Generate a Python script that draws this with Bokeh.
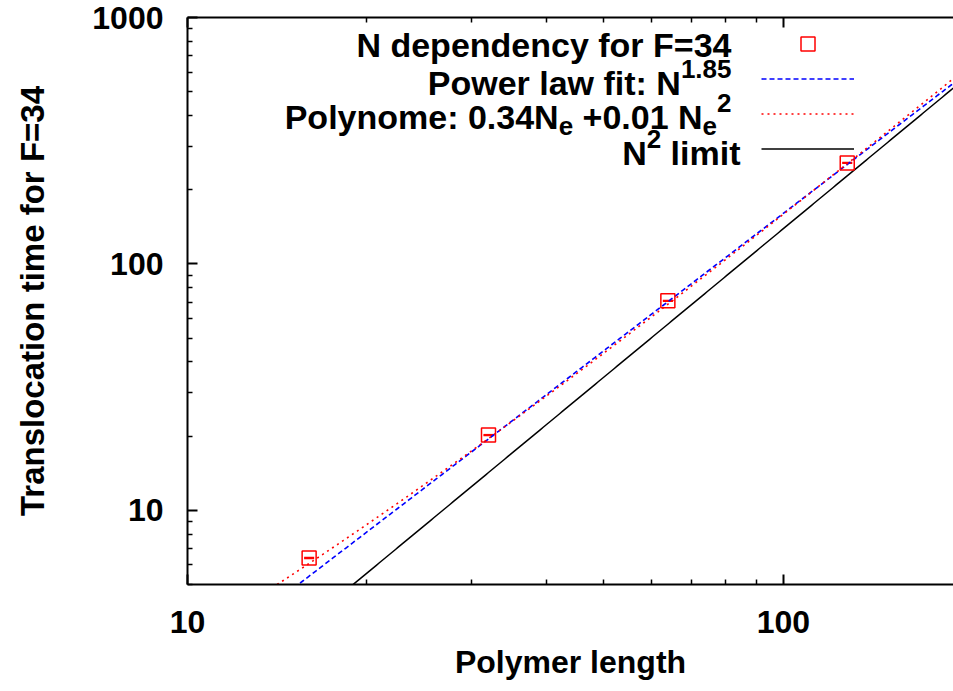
import numpy as np
from bokeh.plotting import figure
from bokeh.models import (LogAxis, FixedTicker, Legend, LegendItem, Label, Whisker,
                          ColumnDataSource, Range1d, TeeHead, NumeralTickFormatter)
from bokeh.embed import file_html
from bokeh.resources import INLINE

# ---------------- data ----------------
polymer_length = [16, 32, 64, 128]
transloc_time = [6.4, 20.2, 70.8, 257.0]
transloc_err = [0.03, 0.08, 0.25, 0.8]

power_exponent = 1.85
power_prefactor = 0.032
poly_linear = 0.15
poly_quadratic = 0.0144
limit_prefactor = 0.0139

x_limits = [10, 193]
y_limits = [5, 1000]

x_major = [10, 100]
x_minor = [20, 30, 40, 50, 60, 70, 80, 90, 200]
y_major = [10, 100, 1000]
y_minor = [5, 6, 7, 8, 9, 20, 30, 40, 50, 60, 70, 80, 90,
           200, 300, 400, 500, 600, 700, 800, 900]

x_label = "Polymer length"
y_label = "Translocation time for F=34"

FONT = "Liberation Sans"
AXF = 32
YLF = 33
MAIN = 34
SMALL = 26

# ---------------- figure ----------------
W, H = 953, 691
FL, FB, FT = 187, 107, 17   # frame borders (px)
p = figure(width=W, height=H, x_axis_type="log", y_axis_type="log",
           x_range=Range1d(*x_limits), y_range=Range1d(*y_limits),
           output_backend="svg", toolbar_location=None,
           min_border_left=FL, min_border_right=0, min_border_top=FT,
           min_border_bottom=FB)
p.outline_line_color = None
p.grid.visible = False
p.background_fill_color = "white"
p.border_fill_color = "white"

p.xaxis.ticker = FixedTicker(ticks=x_major, minor_ticks=x_minor)
p.yaxis.ticker = FixedTicker(ticks=y_major, minor_ticks=y_minor)
p.xaxis.formatter = NumeralTickFormatter(format="0")
p.yaxis.formatter = NumeralTickFormatter(format="0")

for ax in (p.xaxis[0], p.yaxis[0]):
    ax.axis_line_width = 2
    ax.major_tick_line_width = 2
    ax.minor_tick_line_width = 1.5
    ax.major_tick_in = 10
    ax.major_tick_out = 0
    ax.minor_tick_in = 5
    ax.minor_tick_out = 0
    ax.major_label_text_font = FONT
    ax.major_label_text_font_style = "bold"
    ax.major_label_text_font_size = f"{AXF}px"
    ax.major_label_text_color = "black"
    ax.axis_label_text_font = FONT
    ax.axis_label_text_font_style = "bold"
    ax.axis_label_text_font_size = f"{AXF}px"
    ax.axis_label_text_color = "black"

p.xaxis.axis_label = x_label
p.yaxis.axis_label = y_label
p.yaxis.axis_label_text_font_size = f"{YLF}px"
p.xaxis.major_label_standoff = 26
p.xaxis.axis_label_standoff = 8
p.yaxis.major_label_standoff = 24
p.yaxis.axis_label_standoff = 38

top = LogAxis(ticker=FixedTicker(ticks=x_major, minor_ticks=x_minor))
top.axis_line_width = 2
top.major_tick_line_width = 2
top.minor_tick_line_width = 1.5
top.major_tick_in = 10
top.major_tick_out = 0
top.minor_tick_in = 5
top.minor_tick_out = 0
top.major_label_text_font_size = "0px"
top.major_label_text_color = None
top.major_label_standoff = 0
top.axis_label = None
p.add_layout(top, "above")

# ---------------- curves ----------------
xs = np.geomspace(x_limits[0] * 0.9, x_limits[1] * 1.1, 300)
power_y = power_prefactor * xs ** power_exponent
poly_y = poly_linear * xs + poly_quadratic * xs ** 2
limit_y = limit_prefactor * xs ** 2

r_pow = p.line(xs, power_y, line_color="#0000ff", line_width=1.6, line_dash="5 3")
r_poly = p.line(xs, poly_y, line_color="#ff0000", line_width=1.6, line_dash="2 4")
r_lim = p.line(xs, limit_y, line_color="black", line_width=1.5)

src = ColumnDataSource(dict(
    x=polymer_length, y=transloc_time,
    lo=[t - e for t, e in zip(transloc_time, transloc_err)],
    hi=[t + e for t, e in zip(transloc_time, transloc_err)]))
p.add_layout(Whisker(source=src, base="x", lower="lo", upper="hi",
                     line_color="#ff0000", line_width=1.5,
                     upper_head=TeeHead(size=10, line_color="#ff0000", line_width=1.5),
                     lower_head=TeeHead(size=10, line_color="#ff0000", line_width=1.5)))
r_pts = p.scatter("x", "y", source=src, marker="square", size=14,
                  fill_color=None, line_color="#ff0000", line_width=1.5)

# ---------------- legend (samples) ----------------
legend = Legend(items=[LegendItem(label=" ", renderers=[r]) for r in (r_pts, r_pow, r_poly, r_lim)],
                location=(574, 418), glyph_width=93, glyph_height=35,
                label_height=35, label_width=0, label_standoff=0,
                label_text_font_size="1px", spacing=0, padding=0, margin=0,
                border_line_color=None, background_fill_alpha=0)
p.add_layout(legend)

# ---------------- legend texts ----------------
ARIAL_BOLD = {' ': 278, '\u00a0': 278, '+': 584, '.': 278, ':': 333, '=': 584,
              'F': 611, 'N': 722, 'P': 667, 'T': 611, 'a': 556, 'c': 556,
              'd': 611, 'e': 556, 'f': 333, 'g': 611, 'h': 611, 'i': 278,
              'l': 278, 'm': 889, 'n': 611, 'o': 611, 'p': 611, 'r': 389,
              's': 556, 't': 333, 'w': 778, 'y': 556}


def tw(s, size):
    return sum(ARIAL_BOLD.get(c, 556) for c in s) * size / 1000.0


FX0, FY0 = FL, H - FB  # position of frame's bottom-left corner


def rich(pieces, right_x, center_y):
    total = sum(tw(t, MAIN if k == "n" else SMALL) for t, k in pieces)
    x = right_x - total
    for t, k in pieces:
        size = MAIN if k == "n" else SMALL
        dy = {"n": 0, "sup": 14, "sub": -9}[k]
        p.add_layout(Label(x=x - FX0, y=FY0 - center_y + dy,
                           x_units="screen", y_units="screen", text=t,
                           text_font=FONT, text_font_style="bold",
                           text_font_size=f"{size}px", text_color="black",
                           text_align="left", text_baseline="alphabetic"))
        x += tw(t, size)


NB = "\u00a0"
rich([("N dependency for F=34", "n")], 731, 44)
rich([("Power law fit: N", "n"), ("1.85", "sup")], 731, 82)
rich([("Polynome: 0.34N", "n"), ("e", "sub"), (NB + "+0.01 N", "n"), ("e", "sub"), ("2", "sup")], 731, 116)
rich([("N", "n"), ("2", "sup"), (NB + "limit", "n")], 740, 152)

open("out.html", "w").write(file_html(p, INLINE))
